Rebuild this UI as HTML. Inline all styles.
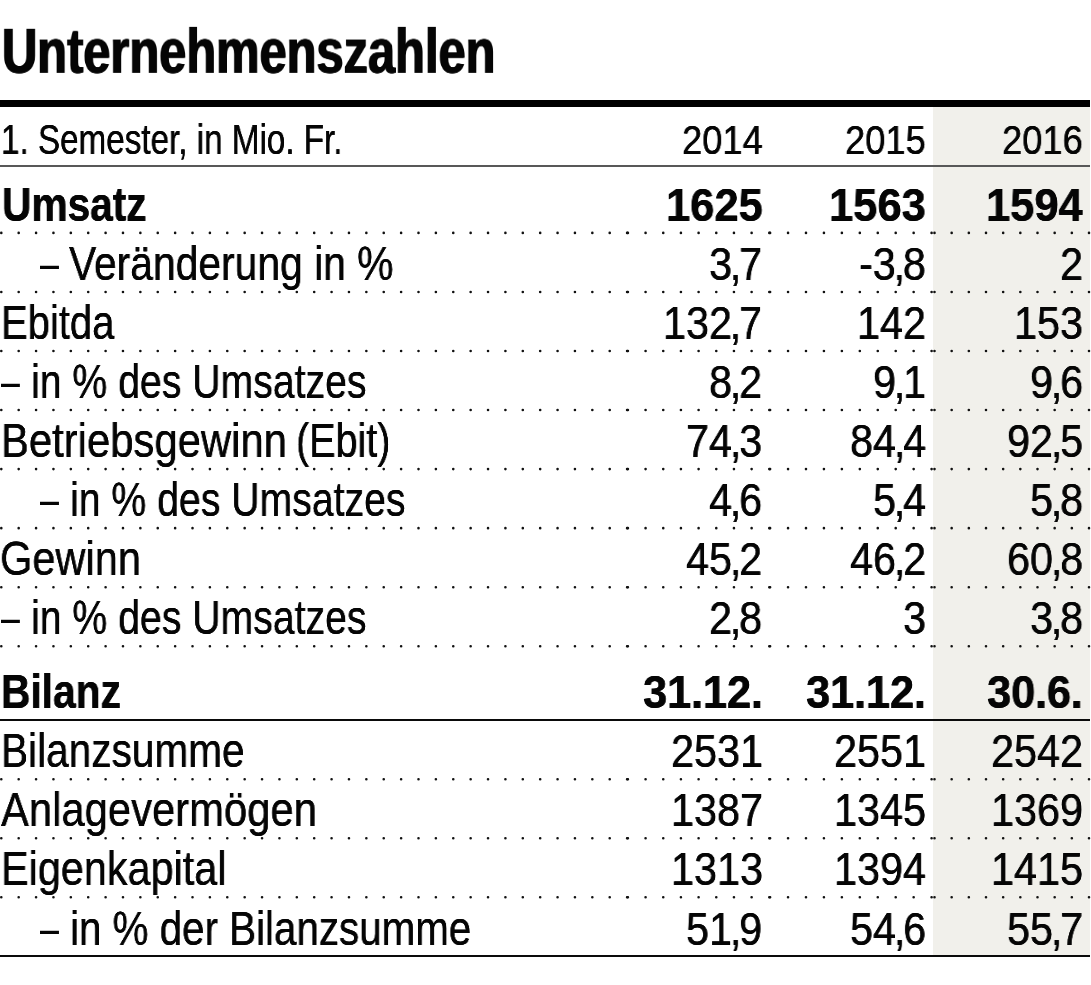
<!DOCTYPE html>
<html><head><meta charset="utf-8"><title>Unternehmenszahlen</title>
<style>
html,body{margin:0;padding:0;background:#fff}
body{width:1091px;height:985px;position:relative;overflow:hidden;font-family:"Liberation Sans",sans-serif;color:#050505}
.t{position:absolute;white-space:nowrap;line-height:1;transform-origin:0 0;will-change:transform}
.b{font-weight:bold}
.g{position:absolute;left:933.2px;top:107px;width:157.1px;height:849.5px;background:#f1f0eb}
.r{position:absolute;left:0;width:1090.3px;background:#0a0a0a}
</style></head><body>
<div class="g"></div>
<div class="r" style="top:100px;height:7px;background:#000"></div>
<div class="r" style="top:165px;height:2px;background:#585858"></div>
<div class="r" style="top:719.1px;height:1.8px"></div>
<div class="r" style="top:955.3px;height:1.8px"></div>
<svg width="1091" height="985" viewBox="0 0 1091 985" style="position:absolute;left:0;top:0"><g stroke="#111" stroke-width="2.6" stroke-linecap="round" fill="none"><line x1="1.30" y1="232.90" x2="627.12" y2="232.90" stroke-dasharray="0 17.3833"/><line x1="627.90" y1="232.90" x2="769.32" y2="232.90" stroke-dasharray="0 17.6750"/><line x1="770.10" y1="232.90" x2="931.62" y2="232.90" stroke-dasharray="0 17.9444"/><line x1="934.50" y1="232.90" x2="1089.02" y2="232.90" stroke-dasharray="0 17.1667"/><line x1="1.30" y1="291.95" x2="627.12" y2="291.95" stroke-dasharray="0 17.3833"/><line x1="627.90" y1="291.95" x2="769.32" y2="291.95" stroke-dasharray="0 17.6750"/><line x1="770.10" y1="291.95" x2="931.62" y2="291.95" stroke-dasharray="0 17.9444"/><line x1="934.50" y1="291.95" x2="1089.02" y2="291.95" stroke-dasharray="0 17.1667"/><line x1="1.30" y1="351.00" x2="627.12" y2="351.00" stroke-dasharray="0 17.3833"/><line x1="627.90" y1="351.00" x2="769.32" y2="351.00" stroke-dasharray="0 17.6750"/><line x1="770.10" y1="351.00" x2="931.62" y2="351.00" stroke-dasharray="0 17.9444"/><line x1="934.50" y1="351.00" x2="1089.02" y2="351.00" stroke-dasharray="0 17.1667"/><line x1="1.30" y1="410.05" x2="627.12" y2="410.05" stroke-dasharray="0 17.3833"/><line x1="627.90" y1="410.05" x2="769.32" y2="410.05" stroke-dasharray="0 17.6750"/><line x1="770.10" y1="410.05" x2="931.62" y2="410.05" stroke-dasharray="0 17.9444"/><line x1="934.50" y1="410.05" x2="1089.02" y2="410.05" stroke-dasharray="0 17.1667"/><line x1="1.30" y1="469.10" x2="627.12" y2="469.10" stroke-dasharray="0 17.3833"/><line x1="627.90" y1="469.10" x2="769.32" y2="469.10" stroke-dasharray="0 17.6750"/><line x1="770.10" y1="469.10" x2="931.62" y2="469.10" stroke-dasharray="0 17.9444"/><line x1="934.50" y1="469.10" x2="1089.02" y2="469.10" stroke-dasharray="0 17.1667"/><line x1="1.30" y1="528.15" x2="627.12" y2="528.15" stroke-dasharray="0 17.3833"/><line x1="627.90" y1="528.15" x2="769.32" y2="528.15" stroke-dasharray="0 17.6750"/><line x1="770.10" y1="528.15" x2="931.62" y2="528.15" stroke-dasharray="0 17.9444"/><line x1="934.50" y1="528.15" x2="1089.02" y2="528.15" stroke-dasharray="0 17.1667"/><line x1="1.30" y1="587.20" x2="627.12" y2="587.20" stroke-dasharray="0 17.3833"/><line x1="627.90" y1="587.20" x2="769.32" y2="587.20" stroke-dasharray="0 17.6750"/><line x1="770.10" y1="587.20" x2="931.62" y2="587.20" stroke-dasharray="0 17.9444"/><line x1="934.50" y1="587.20" x2="1089.02" y2="587.20" stroke-dasharray="0 17.1667"/><line x1="1.30" y1="646.25" x2="627.12" y2="646.25" stroke-dasharray="0 17.3833"/><line x1="627.90" y1="646.25" x2="769.32" y2="646.25" stroke-dasharray="0 17.6750"/><line x1="770.10" y1="646.25" x2="931.62" y2="646.25" stroke-dasharray="0 17.9444"/><line x1="934.50" y1="646.25" x2="1089.02" y2="646.25" stroke-dasharray="0 17.1667"/><line x1="1.30" y1="779.20" x2="627.12" y2="779.20" stroke-dasharray="0 17.3833"/><line x1="627.90" y1="779.20" x2="769.32" y2="779.20" stroke-dasharray="0 17.6750"/><line x1="770.10" y1="779.20" x2="931.62" y2="779.20" stroke-dasharray="0 17.9444"/><line x1="934.50" y1="779.20" x2="1089.02" y2="779.20" stroke-dasharray="0 17.1667"/><line x1="1.30" y1="838.25" x2="627.12" y2="838.25" stroke-dasharray="0 17.3833"/><line x1="627.90" y1="838.25" x2="769.32" y2="838.25" stroke-dasharray="0 17.6750"/><line x1="770.10" y1="838.25" x2="931.62" y2="838.25" stroke-dasharray="0 17.9444"/><line x1="934.50" y1="838.25" x2="1089.02" y2="838.25" stroke-dasharray="0 17.1667"/><line x1="1.30" y1="897.30" x2="627.12" y2="897.30" stroke-dasharray="0 17.3833"/><line x1="627.90" y1="897.30" x2="769.32" y2="897.30" stroke-dasharray="0 17.6750"/><line x1="770.10" y1="897.30" x2="931.62" y2="897.30" stroke-dasharray="0 17.9444"/><line x1="934.50" y1="897.30" x2="1089.02" y2="897.30" stroke-dasharray="0 17.1667"/></g></svg>
<div class="t b" style="left:1.90px;top:20.00px;font-size:64.00px;transform:scale(0.7623,0.978);text-shadow:0.90px 0 0 #050505,-0.90px 0 0 #050505">Unternehmenszahlen</div>
<div class="t" style="left:1.34px;top:119.00px;font-size:41.91px;transform:scale(0.7927,1);text-shadow:0.15px 0 0 #050505,-0.15px 0 0 #050505">1. Semester, in Mio. Fr.</div>
<div class="t" style="left:681.70px;top:120.00px;font-size:40.76px;transform:scale(0.8912,1);text-shadow:0.20px 0 0 #050505,-0.20px 0 0 #050505">2014</div>
<div class="t" style="left:845.00px;top:120.00px;font-size:40.76px;transform:scale(0.8912,1);text-shadow:0.20px 0 0 #050505,-0.20px 0 0 #050505">2015</div>
<div class="t" style="left:1001.80px;top:120.00px;font-size:40.76px;transform:scale(0.8912,1);text-shadow:0.20px 0 0 #050505,-0.20px 0 0 #050505">2016</div>
<div class="t b" style="left:1.80px;top:181.00px;font-size:47.30px;transform:scale(0.8596,1);text-shadow:0.25px 0 0 #050505,-0.25px 0 0 #050505">Umsatz</div>
<div class="t b" style="left:665.70px;top:182.00px;font-size:46.00px;transform:scale(0.9459,1);text-shadow:0.25px 0 0 #050505,-0.25px 0 0 #050505">1625</div>
<div class="t b" style="left:829.00px;top:182.00px;font-size:46.00px;transform:scale(0.9459,1);text-shadow:0.25px 0 0 #050505,-0.25px 0 0 #050505">1563</div>
<div class="t b" style="left:985.80px;top:182.00px;font-size:46.00px;transform:scale(0.9459,1);text-shadow:0.25px 0 0 #050505,-0.25px 0 0 #050505">1594</div>
<div class="t" style="left:39.80px;top:240.00px;font-size:47.30px;transform:scale(0.7222,1)">–</div>
<div class="t" style="left:69.20px;top:240.00px;font-size:47.30px;transform:scale(0.8630,1);text-shadow:0.12px 0 0 #050505,-0.12px 0 0 #050505">Veränderung in %</div>
<div class="t" style="left:709.40px;top:241.00px;font-size:46.00px;transform:scale(0.8990,1);text-shadow:0.20px 0 0 #050505,-0.20px 0 0 #050505">3<span style="margin:0 -2.44px">,</span>7</div>
<div class="t" style="left:858.93px;top:241.00px;font-size:46.00px;transform:scale(0.8990,1);text-shadow:0.20px 0 0 #050505,-0.20px 0 0 #050505">-3<span style="margin:0 -2.44px">,</span>8</div>
<div class="t" style="left:1059.60px;top:241.00px;font-size:46.00px;transform:scale(0.8990,1);text-shadow:0.20px 0 0 #050505,-0.20px 0 0 #050505">2</div>
<div class="t" style="left:0.67px;top:299.00px;font-size:47.30px;transform:scale(0.8452,1);text-shadow:0.12px 0 0 #050505,-0.12px 0 0 #050505">Ebitda</div>
<div class="t" style="left:663.40px;top:300.00px;font-size:46.00px;transform:scale(0.8990,1);text-shadow:0.20px 0 0 #050505,-0.20px 0 0 #050505">132<span style="margin:0 -2.44px">,</span>7</div>
<div class="t" style="left:856.80px;top:300.00px;font-size:46.00px;transform:scale(0.8990,1);text-shadow:0.20px 0 0 #050505,-0.20px 0 0 #050505">142</div>
<div class="t" style="left:1013.60px;top:300.00px;font-size:46.00px;transform:scale(0.8990,1);text-shadow:0.20px 0 0 #050505,-0.20px 0 0 #050505">153</div>
<div class="t" style="left:0.80px;top:358.00px;font-size:47.30px;transform:scale(0.7185,1)">–</div>
<div class="t" style="left:31.41px;top:358.00px;font-size:47.30px;transform:scale(0.8289,1);text-shadow:0.12px 0 0 #050505,-0.12px 0 0 #050505">in % des Umsatzes</div>
<div class="t" style="left:709.40px;top:359.00px;font-size:46.00px;transform:scale(0.8990,1);text-shadow:0.20px 0 0 #050505,-0.20px 0 0 #050505">8<span style="margin:0 -2.44px">,</span>2</div>
<div class="t" style="left:872.70px;top:359.00px;font-size:46.00px;transform:scale(0.8990,1);text-shadow:0.20px 0 0 #050505,-0.20px 0 0 #050505">9<span style="margin:0 -2.44px">,</span>1</div>
<div class="t" style="left:1029.50px;top:359.00px;font-size:46.00px;transform:scale(0.8990,1);text-shadow:0.20px 0 0 #050505,-0.20px 0 0 #050505">9<span style="margin:0 -2.44px">,</span>6</div>
<div class="t" style="left:0.75px;top:417.00px;font-size:47.30px;transform:scale(0.8840,1);text-shadow:0.12px 0 0 #050505,-0.12px 0 0 #050505">Betriebsgewinn</div>
<div class="t" style="left:296.33px;top:417.00px;font-size:47.30px;transform:scale(0.8360,1);text-shadow:0.12px 0 0 #050505,-0.12px 0 0 #050505">(Ebit)</div>
<div class="t" style="left:686.40px;top:418.00px;font-size:46.00px;transform:scale(0.8990,1);text-shadow:0.20px 0 0 #050505,-0.20px 0 0 #050505">74<span style="margin:0 -2.44px">,</span>3</div>
<div class="t" style="left:849.70px;top:418.00px;font-size:46.00px;transform:scale(0.8990,1);text-shadow:0.20px 0 0 #050505,-0.20px 0 0 #050505">84<span style="margin:0 -2.44px">,</span>4</div>
<div class="t" style="left:1006.50px;top:418.00px;font-size:46.00px;transform:scale(0.8990,1);text-shadow:0.20px 0 0 #050505,-0.20px 0 0 #050505">92<span style="margin:0 -2.44px">,</span>5</div>
<div class="t" style="left:39.80px;top:476.00px;font-size:47.30px;transform:scale(0.7222,1)">–</div>
<div class="t" style="left:70.41px;top:476.00px;font-size:47.30px;transform:scale(0.8289,1);text-shadow:0.12px 0 0 #050505,-0.12px 0 0 #050505">in % des Umsatzes</div>
<div class="t" style="left:709.40px;top:477.00px;font-size:46.00px;transform:scale(0.8990,1);text-shadow:0.20px 0 0 #050505,-0.20px 0 0 #050505">4<span style="margin:0 -2.44px">,</span>6</div>
<div class="t" style="left:872.70px;top:477.00px;font-size:46.00px;transform:scale(0.8990,1);text-shadow:0.20px 0 0 #050505,-0.20px 0 0 #050505">5<span style="margin:0 -2.44px">,</span>4</div>
<div class="t" style="left:1029.50px;top:477.00px;font-size:46.00px;transform:scale(0.8990,1);text-shadow:0.20px 0 0 #050505,-0.20px 0 0 #050505">5<span style="margin:0 -2.44px">,</span>8</div>
<div class="t" style="left:0.45px;top:535.00px;font-size:47.30px;transform:scale(0.8784,1);text-shadow:0.12px 0 0 #050505,-0.12px 0 0 #050505">Gewinn</div>
<div class="t" style="left:686.40px;top:536.00px;font-size:46.00px;transform:scale(0.8990,1);text-shadow:0.20px 0 0 #050505,-0.20px 0 0 #050505">45<span style="margin:0 -2.44px">,</span>2</div>
<div class="t" style="left:849.70px;top:536.00px;font-size:46.00px;transform:scale(0.8990,1);text-shadow:0.20px 0 0 #050505,-0.20px 0 0 #050505">46<span style="margin:0 -2.44px">,</span>2</div>
<div class="t" style="left:1006.50px;top:536.00px;font-size:46.00px;transform:scale(0.8990,1);text-shadow:0.20px 0 0 #050505,-0.20px 0 0 #050505">60<span style="margin:0 -2.44px">,</span>8</div>
<div class="t" style="left:0.80px;top:594.00px;font-size:47.30px;transform:scale(0.7185,1)">–</div>
<div class="t" style="left:31.41px;top:594.00px;font-size:47.30px;transform:scale(0.8289,1);text-shadow:0.12px 0 0 #050505,-0.12px 0 0 #050505">in % des Umsatzes</div>
<div class="t" style="left:709.40px;top:595.00px;font-size:46.00px;transform:scale(0.8990,1);text-shadow:0.20px 0 0 #050505,-0.20px 0 0 #050505">2<span style="margin:0 -2.44px">,</span>8</div>
<div class="t" style="left:902.80px;top:595.00px;font-size:46.00px;transform:scale(0.8990,1);text-shadow:0.20px 0 0 #050505,-0.20px 0 0 #050505">3</div>
<div class="t" style="left:1029.50px;top:595.00px;font-size:46.00px;transform:scale(0.8990,1);text-shadow:0.20px 0 0 #050505,-0.20px 0 0 #050505">3<span style="margin:0 -2.44px">,</span>8</div>
<div class="t b" style="left:0.93px;top:668.00px;font-size:47.30px;transform:scale(0.8606,1);text-shadow:0.25px 0 0 #050505,-0.25px 0 0 #050505">Bilanz</div>
<div class="t b" style="left:642.90px;top:669.00px;font-size:46.00px;transform:scale(0.9459,1);text-shadow:0.25px 0 0 #050505,-0.25px 0 0 #050505">31<span style="margin:0 -0.36px">.</span>12<span style="margin:0 -0.36px">.</span></div>
<div class="t b" style="left:806.20px;top:669.00px;font-size:46.00px;transform:scale(0.9459,1);text-shadow:0.25px 0 0 #050505,-0.25px 0 0 #050505">31<span style="margin:0 -0.36px">.</span>12<span style="margin:0 -0.36px">.</span></div>
<div class="t b" style="left:987.20px;top:669.00px;font-size:46.00px;transform:scale(0.9459,1);text-shadow:0.25px 0 0 #050505,-0.25px 0 0 #050505">30<span style="margin:0 -0.36px">.</span>6<span style="margin:0 -0.36px">.</span></div>
<div class="t" style="left:0.83px;top:727.00px;font-size:47.30px;transform:scale(0.8581,1);text-shadow:0.12px 0 0 #050505,-0.12px 0 0 #050505">Bilanzsumme</div>
<div class="t" style="left:670.50px;top:728.00px;font-size:46.00px;transform:scale(0.8990,1);text-shadow:0.20px 0 0 #050505,-0.20px 0 0 #050505">2531</div>
<div class="t" style="left:833.80px;top:728.00px;font-size:46.00px;transform:scale(0.8990,1);text-shadow:0.20px 0 0 #050505,-0.20px 0 0 #050505">2551</div>
<div class="t" style="left:990.60px;top:728.00px;font-size:46.00px;transform:scale(0.8990,1);text-shadow:0.20px 0 0 #050505,-0.20px 0 0 #050505">2542</div>
<div class="t" style="left:1.01px;top:786.00px;font-size:47.30px;transform:scale(0.8835,1);text-shadow:0.12px 0 0 #050505,-0.12px 0 0 #050505">Anlagevermögen</div>
<div class="t" style="left:670.50px;top:787.00px;font-size:46.00px;transform:scale(0.8990,1);text-shadow:0.20px 0 0 #050505,-0.20px 0 0 #050505">1387</div>
<div class="t" style="left:833.80px;top:787.00px;font-size:46.00px;transform:scale(0.8990,1);text-shadow:0.20px 0 0 #050505,-0.20px 0 0 #050505">1345</div>
<div class="t" style="left:990.60px;top:787.00px;font-size:46.00px;transform:scale(0.8990,1);text-shadow:0.20px 0 0 #050505,-0.20px 0 0 #050505">1369</div>
<div class="t" style="left:0.98px;top:845.00px;font-size:47.30px;transform:scale(0.8751,1);text-shadow:0.12px 0 0 #050505,-0.12px 0 0 #050505">Eigenkapital</div>
<div class="t" style="left:670.50px;top:846.00px;font-size:46.00px;transform:scale(0.8990,1);text-shadow:0.20px 0 0 #050505,-0.20px 0 0 #050505">1313</div>
<div class="t" style="left:833.80px;top:846.00px;font-size:46.00px;transform:scale(0.8990,1);text-shadow:0.20px 0 0 #050505,-0.20px 0 0 #050505">1394</div>
<div class="t" style="left:990.60px;top:846.00px;font-size:46.00px;transform:scale(0.8990,1);text-shadow:0.20px 0 0 #050505,-0.20px 0 0 #050505">1415</div>
<div class="t" style="left:39.80px;top:905.00px;font-size:47.30px;transform:scale(0.7222,1)">–</div>
<div class="t" style="left:70.34px;top:905.00px;font-size:47.30px;transform:scale(0.8528,1);text-shadow:0.12px 0 0 #050505,-0.12px 0 0 #050505">in % der Bilanzsumme</div>
<div class="t" style="left:686.40px;top:906.00px;font-size:46.00px;transform:scale(0.8990,1);text-shadow:0.20px 0 0 #050505,-0.20px 0 0 #050505">51<span style="margin:0 -2.44px">,</span>9</div>
<div class="t" style="left:849.70px;top:906.00px;font-size:46.00px;transform:scale(0.8990,1);text-shadow:0.20px 0 0 #050505,-0.20px 0 0 #050505">54<span style="margin:0 -2.44px">,</span>6</div>
<div class="t" style="left:1006.50px;top:906.00px;font-size:46.00px;transform:scale(0.8990,1);text-shadow:0.20px 0 0 #050505,-0.20px 0 0 #050505">55<span style="margin:0 -2.44px">,</span>7</div>
</body></html>
